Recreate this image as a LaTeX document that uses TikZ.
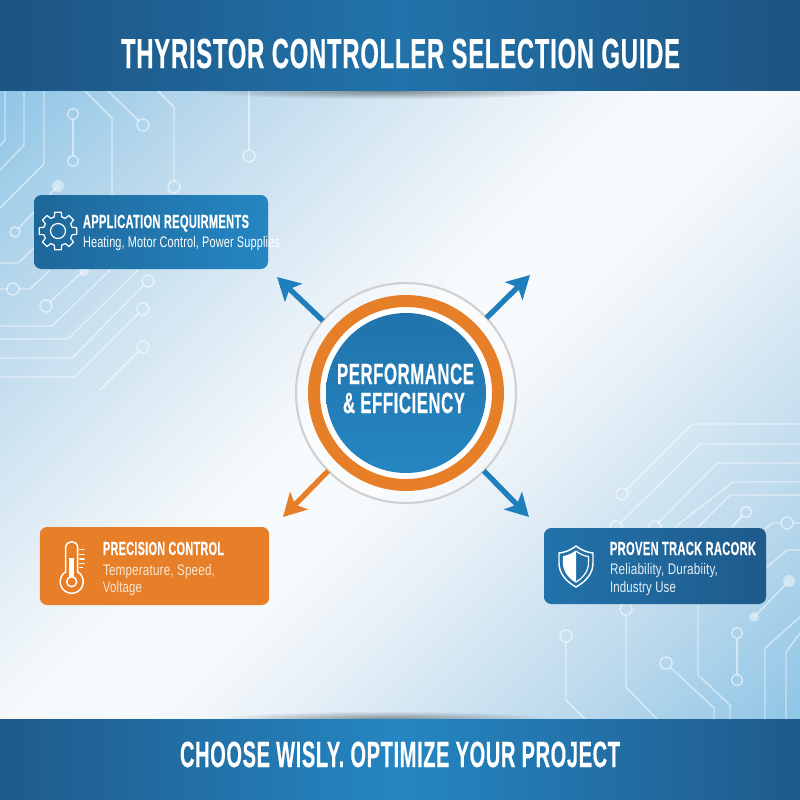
\documentclass[tikz,border=0pt]{standalone}
\usepackage{fontspec}
\usepackage{graphicx}
\setmainfont{Liberation Sans}
\newfontfamily\headfam[LetterSpace=3,BoldFeatures={FakeBold=.5}]{Liberation Sans}
\newfontfamily\subfam[LetterSpace=1.5]{Liberation Sans}
\usetikzlibrary{arrows.meta,fadings,shadings}
\tikzfading[name=softoval,inner color=transparent!0,outer color=transparent!100]
\definecolor{edgeblue}{HTML}{1D5482}
\definecolor{midblue}{HTML}{2173AB}
\definecolor{footedge}{HTML}{1F5A8B}
\definecolor{footmid}{HTML}{2586C2}
\definecolor{arrowblue}{HTML}{1F7FBC}
\definecolor{brandorange}{HTML}{E77F28}
\definecolor{cream}{HTML}{FBE6D3}
\definecolor{paleblue}{HTML}{E4EFF8}
\definecolor{bgA}{HTML}{8FC5E6}
\definecolor{bgB}{HTML}{BBD9EC}
\definecolor{bgD}{HTML}{E6F0F7}
\definecolor{bgC}{HTML}{F7FAFC}
\pgfdeclarehorizontalshading{bgdiag}{100bp}{
  color(0bp)=(bgA);
  color(14.6bp)=(bgA);
  color(26bp)=(bgB);
  color(40bp)=(bgD);
  color(47bp)=(bgC);
  color(53bp)=(bgC);
  color(60bp)=(bgD);
  color(74bp)=(bgB);
  color(85.4bp)=(bgA);
  color(100bp)=(bgA)}
\newcommand{\fitw}[2]{\resizebox{\dimexpr #1pt*3/4\relax}{\height}{#2}}
\tikzset{
  x=0.75pt,y=-0.75pt,
  trace/.style={draw=white,draw opacity=.5,line width=1.1pt,line join=round},
  pad/.style={draw=white,draw opacity=.55,line width=1.1pt},
  blob/.style={fill=white,fill opacity=.45},
  panel/.style={rectangle,rounded corners=5.5pt,inner sep=0pt,outer sep=0pt,draw=none},
  label/.style={anchor=base west,inner sep=0pt,outer sep=0pt,text=white},
  headtxt/.style={label,font=\headfam\bfseries\fontsize{#1}{#1}\selectfont},
  subtxt/.style={label,font=\subfam\fontsize{11.5}{11.5}\selectfont},
  spoke/.style={line width=4pt,-{Stealth[length=17pt,width=18.5pt,inset=4pt]}},
  icon/.style={draw=white,line width=1.1pt,line join=round,line cap=round},
}
\begin{document}
\begin{tikzpicture}
\useasboundingbox (0,0) rectangle (800,800);
% background
\shade[shading=bgdiag,shading angle=-45] (0,90) rectangle (800,720);
% circuit traces, upper left
\draw[trace] (5,91)--(5,140)--(0,146);
\draw[trace] (24,91)--(24,145)--(0,170);
\draw[trace] (44,91)--(44,164)--(0,208);
\draw[trace] (73,119.5)--(73,155.5);
\draw[pad] (73,114) circle[radius=5.5] (73,161) circle[radius=5.5];
\draw[trace] (85,91)--(112,118)--(112,195);
\draw[trace] (108,91)--(139,121);
\draw[pad] (143,125) circle[radius=6];
\draw[trace] (158,91)--(174,107)--(174,181);
\draw[pad] (174,187) circle[radius=6];
\draw[trace] (249,91)--(249,150);
\draw[pad] (249,156) circle[radius=6];
\draw[trace] (19,228)--(58,186);
\fill[blob] (58,186) circle[radius=6];
\draw[pad] (15,232) circle[radius=5];
\draw[trace] (0,263)--(18,263)--(35,247);
\draw[trace] (0,289)--(7,289) (19,289)--(30,289)--(50,270);
\draw[pad] (13,289) circle[radius=6];
\draw[trace] (50,302)--(82,272);
\fill[blob] (84,271) circle[radius=5];
\draw[pad] (46,306) circle[radius=6];
\draw[trace] (0,326)--(52,326)--(110,270);
\draw[trace] (0,339)--(68,339)--(138,270);
\draw[trace] (0,358)--(72,358)--(144,285);
\draw[pad] (148,281) circle[radius=6];
\draw[trace] (0,377)--(75,377)--(139,313);
\draw[pad] (143,309) circle[radius=6];
\draw[trace] (139,351)--(100,390);
\draw[pad] (143,347) circle[radius=6];
% circuit traces, lower right
\draw[trace] (626,490)--(692,424)--(800,424);
\draw[pad] (622,494) circle[radius=6];
\draw[trace] (620,523)--(700,444)--(800,444);
\draw[pad] (616,527) circle[radius=6];
\draw[trace] (658,523)--(717,463)--(800,463);
\draw[pad] (655,527) circle[radius=6];
\draw[trace] (675,527)--(733,482)--(800,482);
\draw[trace] (698,527)--(730,495)--(800,495);
\draw[trace,line width=1.8pt] (742,516)--(732,527);
\draw[pad] (746,512) circle[radius=5.5];
\draw[trace] (765,529)--(773,523)--(781,523) (793,523)--(800,523);
\draw[pad] (787,523) circle[radius=6];
\draw[trace] (767,567)--(787,550)--(800,550);
\draw[trace] (754,617)--(789,581);
\fill[blob] (789,581) circle[radius=6] (754,617) circle[radius=5];
\draw[trace] (800,617)--(765,648)--(765,719);
\draw[trace] (800,633)--(786,652)--(786,719);
\draw[trace] (737,638.5)--(737,674.5);
\draw[pad] (737,633) circle[radius=5.5] (737,680) circle[radius=5.5];
\draw[trace] (698,605)--(698,675)--(730,705)--(730,719);
\draw[trace] (626,615)--(626,687)--(657,719);
\draw[pad] (626,609) circle[radius=6];
\draw[trace] (670,667)--(714,708)--(714,719);
\draw[pad] (666,663) circle[radius=6];
\draw[trace] (566,642)--(566,700)--(585,719);
\draw[pad] (566,636) circle[radius=6];
% soft shadows beside the bands
\fill[black,opacity=.4,path fading=softoval] (385,91) ellipse[x radius=190,y radius=8];
\fill[black,opacity=.4,path fading=softoval] (385,719) ellipse[x radius=170,y radius=8];
% bands
\shade[left color=edgeblue,right color=edgeblue,middle color=midblue] (0,0) rectangle (800,90.5);
\shade[left color=footedge,right color=footedge,middle color=footmid] (0,719) rectangle (800,800);
\node[headtxt=31.5] (title) at (121,68) {\fitw{559}{THYRISTOR CONTROLLER SELECTION GUIDE}};
\node[headtxt=27.3] (footer) at (180,767) {\fitw{440}{CHOOSE WISLY. OPTIMIZE YOUR PROJECT}};
% hub
\node[circle,draw=black!18,fill=white,fill opacity=.35,line width=1.6pt,minimum size=165pt,inner sep=0pt,outer sep=0pt] (hub) at (406,393) {};
\node[circle,draw=brandorange,line width=9pt,fill=white,minimum size=138pt,inner sep=0pt,outer sep=0pt] (ring) at (406,393) {};
\node[circle,top color=midblue,bottom color=footmid,minimum size=120pt,inner sep=0pt,outer sep=0pt] (core) at (406,393) {};
\node[headtxt=22] (hubA) at (337,384) {\fitw{137}{PERFORMANCE}};
\node[headtxt=22] (hubB) at (343,413) {\fitw{122}{\&\ EFFICIENCY}};
% panels
\node[panel,minimum width=175.5pt,minimum height=55.5pt,left color=midblue!90!black,right color=footmid] (app) at (151,232) {};
\node[panel,minimum width=172pt,minimum height=58.5pt,fill=brandorange] (prec) at (154.5,566) {};
\node[panel,minimum width=166.5pt,minimum height=57pt,left color=midblue,right color=footedge] (track) at (655,566) {};
% spokes
\coordinate (nw) at (277,277);
\coordinate (ne) at (530,275);
\coordinate (sw) at (283,517);
\coordinate (se) at (529,517);
\draw[spoke,draw=arrowblue,fill=arrowblue] (hub.139) -- (nw);
\draw[spoke,draw=arrowblue,fill=arrowblue] (hub.43) -- (ne);
\draw[spoke,draw=brandorange,fill=brandorange] (hub.225) -- (sw);
\draw[spoke,draw=arrowblue,fill=arrowblue] (hub.-45) -- (se);
% panel text
\node[headtxt=14.2] (appT) at (83,228) {\fitw{166}{APPLICATION REQUIRMENTS}};
\node[subtxt] (appS) at (83,247) {\fitw{197}{Heating, Motor Control, Power Supplies}};
\node[headtxt=14.2] (precT) at (103,555) {\fitw{121}{PRECISION CONTROL}};
\node[subtxt,text=cream] (precS) at (103,575) {\fitw{112}{Temperature, Speed,}};
\node[subtxt,text=cream] (precV) at (103,592) {\fitw{39}{Voltage}};
\node[headtxt=14.2] (trackT) at (610,555) {\fitw{146}{PROVEN TRACK RACORK}};
\node[subtxt,text=paleblue] (trackS) at (610,574) {\fitw{108}{Reliability, Durabiity,}};
\node[subtxt,text=paleblue] (trackU) at (610,592) {\fitw{66}{Industry Use}};
% gear icon
\begin{scope}[shift={(58,231)}]
\draw[icon,line width=.9pt] (0,0) circle[radius=7.5];
\foreach \a in {0,45,...,315}{
  \draw[icon,line width=.9pt] (\a-23:14.5)--(\a-15:14.5)--(\a-10:19)--(\a+10:19)--(\a+15:14.5)--(\a+23:14.5);
}
\end{scope}
% thermometer icon
\begin{scope}[shift={(71.7,581.7)}]
\draw[icon] (-6,-9.7)--(-6,-34) .. controls (-6,-42) and (6,-42) .. (6,-34)--(6,-9.7)
  -- plot[domain=-58:238,samples=40] (\x:11.5) -- cycle;
\draw[icon] (0,0) circle[radius=5];
\fill[white] (-2.6,-23.5) rectangle (2.6,-4);
\draw[icon,line width=.8pt] (8,-32)--(12.5,-32) (8,-27.5)--(12.5,-27.5) (8,-22.7)--(12.5,-22.7) (8,-18)--(12.5,-18) (8,-14)--(11,-14);
\end{scope}
% shield icon
\begin{scope}[shift={(576,0)}]
\draw[icon] (0,546) .. controls (5,550) and (11,552.5) .. (17,553) -- (17,563) .. controls (17,574) and (9,582) .. (0,587)
  .. controls (-9,582) and (-17,574) .. (-17,563) -- (-17,553) .. controls (-11,552.5) and (-5,550) .. cycle;
\draw[icon,line width=.9pt] (0,551) .. controls (4,554) and (8,556) .. (12.5,556.5) -- (12.5,563) .. controls (12.5,571) and (7,578) .. (0,582)
  .. controls (-7,578) and (-12.5,571) .. (-12.5,563) -- (-12.5,556.5) .. controls (-8,556) and (-4,554) .. cycle;
\fill[white] (0,551) .. controls (-4,554) and (-8,556) .. (-12.5,556.5) -- (-12.5,563) .. controls (-12.5,571) and (-7,578) .. (0,582) -- cycle;
\end{scope}
\end{tikzpicture}
\end{document}
